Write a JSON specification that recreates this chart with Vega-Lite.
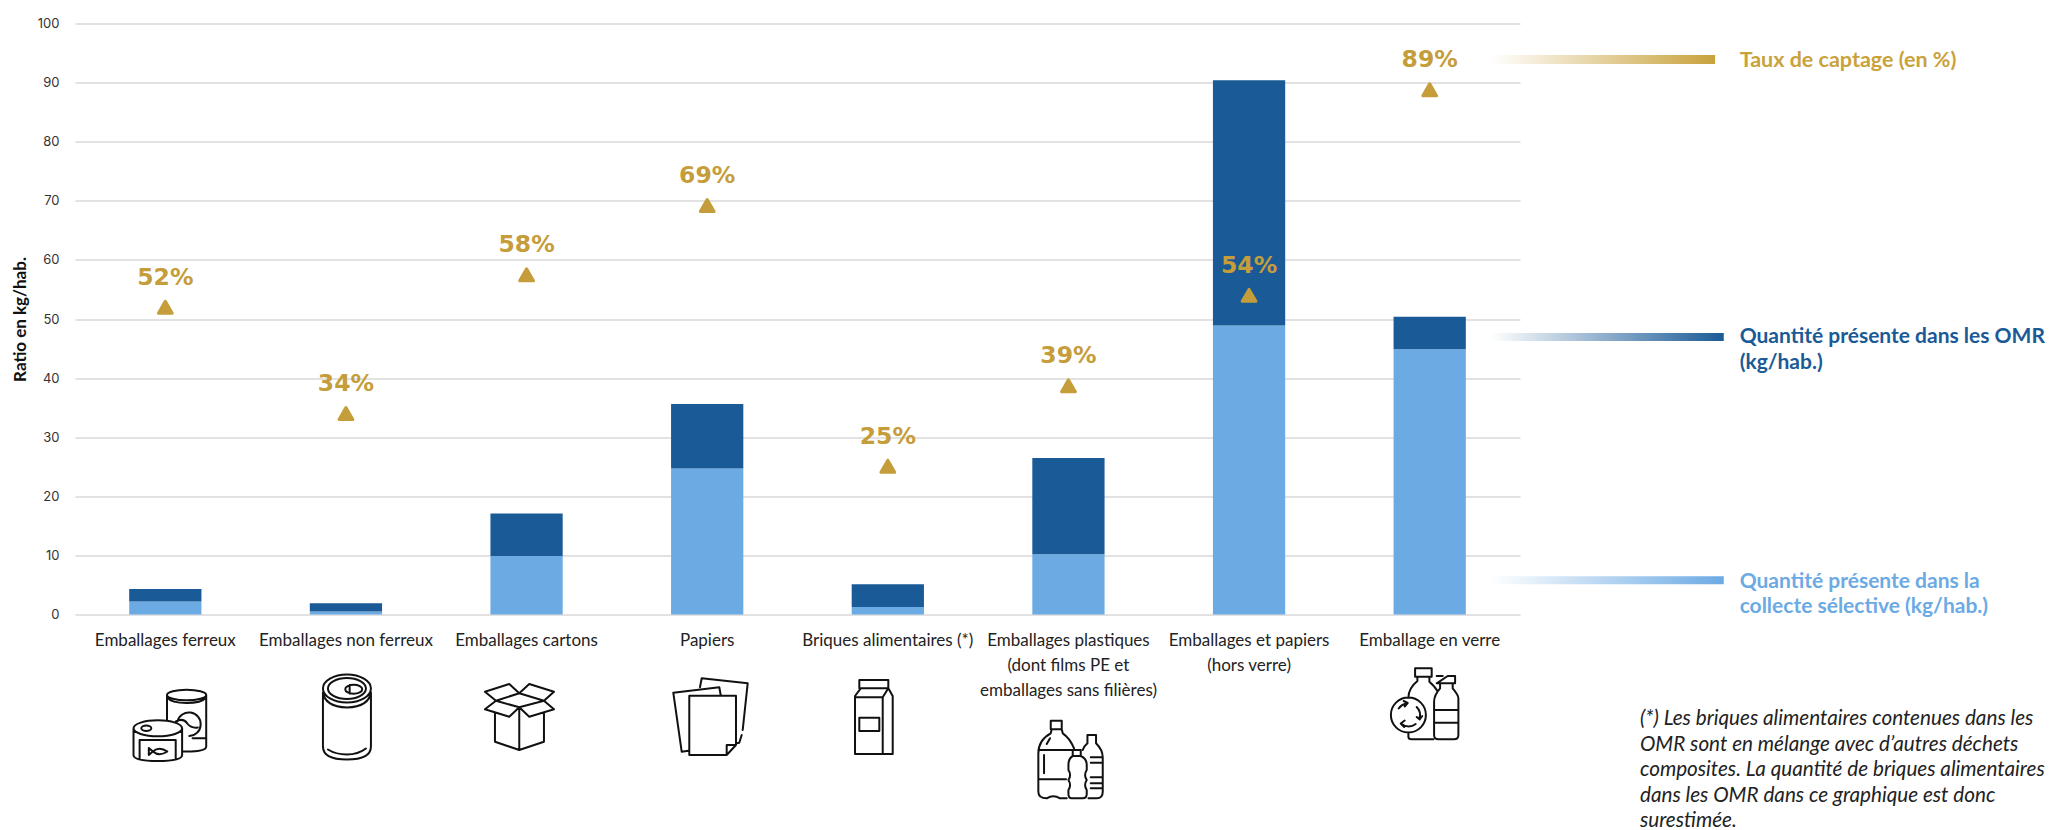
{
"$schema":"https://vega.github.io/schema/vega-lite/v6.json",
"width":1445,"height":591,
"padding":{"left":11,"top":17.5,"right":0,"bottom":0},
"background":"white",
"config":{"view":{"stroke":null}},
"datasets":{
"barres":[
{"categorie":"Emballages ferreux","serie":"Quantité présente dans la collecte sélective (kg/hab.)","rang":1,"valeur":2.2},
{"categorie":"Emballages ferreux","serie":"Quantité présente dans les OMR (kg/hab.)","rang":2,"valeur":2.1},
{"categorie":"Emballages non ferreux","serie":"Quantité présente dans la collecte sélective (kg/hab.)","rang":1,"valeur":0.5},
{"categorie":"Emballages non ferreux","serie":"Quantité présente dans les OMR (kg/hab.)","rang":2,"valeur":1.4},
{"categorie":"Emballages cartons","serie":"Quantité présente dans la collecte sélective (kg/hab.)","rang":1,"valeur":9.9},
{"categorie":"Emballages cartons","serie":"Quantité présente dans les OMR (kg/hab.)","rang":2,"valeur":7.2},
{"categorie":"Papiers","serie":"Quantité présente dans la collecte sélective (kg/hab.)","rang":1,"valeur":24.7},
{"categorie":"Papiers","serie":"Quantité présente dans les OMR (kg/hab.)","rang":2,"valeur":10.9},
{"categorie":"Briques alimentaires (*)","serie":"Quantité présente dans la collecte sélective (kg/hab.)","rang":1,"valeur":1.25},
{"categorie":"Briques alimentaires (*)","serie":"Quantité présente dans les OMR (kg/hab.)","rang":2,"valeur":3.85},
{"categorie":"Emballages plastiques (dont films PE et emballages sans filières)","serie":"Quantité présente dans la collecte sélective (kg/hab.)","rang":1,"valeur":10.2},
{"categorie":"Emballages plastiques (dont films PE et emballages sans filières)","serie":"Quantité présente dans les OMR (kg/hab.)","rang":2,"valeur":16.3},
{"categorie":"Emballages et papiers (hors verre)","serie":"Quantité présente dans la collecte sélective (kg/hab.)","rang":1,"valeur":48.9},
{"categorie":"Emballages et papiers (hors verre)","serie":"Quantité présente dans les OMR (kg/hab.)","rang":2,"valeur":41.5},
{"categorie":"Emballage en verre","serie":"Quantité présente dans la collecte sélective (kg/hab.)","rang":1,"valeur":44.9},
{"categorie":"Emballage en verre","serie":"Quantité présente dans les OMR (kg/hab.)","rang":2,"valeur":5.5}
],
"taux":[
{"categorie":"Emballages ferreux","taux":52,"libelle":"52%"},
{"categorie":"Emballages non ferreux","taux":34,"libelle":"34%"},
{"categorie":"Emballages cartons","taux":57.5,"libelle":"58%"},
{"categorie":"Papiers","taux":69.2,"libelle":"69%"},
{"categorie":"Briques alimentaires (*)","taux":25.1,"libelle":"25%"},
{"categorie":"Emballages plastiques (dont films PE et emballages sans filières)","taux":38.7,"libelle":"39%"},
{"categorie":"Emballages et papiers (hors verre)","taux":54,"libelle":"54%"},
{"categorie":"Emballage en verre","taux":88.8,"libelle":"89%"}
],
"legende":[
{"serie":"Taux de captage (en %)","libelle":"Taux de captage (en %)"},
{"serie":"Quantité présente dans les OMR (kg/hab.)","libelle":"Quantité présente dans les OMR\n(kg/hab.)"},
{"serie":"Quantité présente dans la collecte sélective (kg/hab.)","libelle":"Quantité présente dans la\ncollecte sélective (kg/hab.)"}
],
"note":[{"texte":"(*) Les briques alimentaires contenues dans les\nOMR sont en mélange avec d’autres déchets\ncomposites. La quantité de briques alimentaires\ndans les OMR dans ce graphique est donc\nsurestimée."}]
},
"resolve":{"scale":{"x":"independent"}},
"layer":[
{"layer":[
{"data":{"name":"barres"},
"mark":{"type":"bar"},
"encoding":{
"x":{"field":"categorie","type":"nominal","sort":null,"scale":{"paddingInner":0.6,"paddingOuter":0.3},
"axis":{"title":null,"labelAngle":0,"ticks":false,"domain":false,"grid":false,"labelFont":"Lato","labelFontSize":17,"labelColor":"#222222","labelPadding":26,"labelLimit":300,"labelLineHeight":25,"labelBaseline":"middle",
"labelExpr":"datum.label === 'Emballages plastiques (dont films PE et emballages sans filières)' ? ['Emballages plastiques','(dont films PE et','emballages sans filières)'] : datum.label === 'Emballages et papiers (hors verre)' ? ['Emballages et papiers','(hors verre)'] : datum.label"}},
"y":{"field":"valeur","type":"quantitative","stack":"zero","scale":{"domain":[0,100],"nice":false},
"axis":{"title":"Ratio en kg/hab.","values":[0,10,20,30,40,50,60,70,80,90,100],"grid":true,"gridColor":"#e2e2e2","gridWidth":1.8,"ticks":false,"domain":false,"labelFont":"Inter","labelFontSize":13,"labelColor":"#333333","labelPadding":16,"titleFont":"Lato","titleFontWeight":"bold","titleFontSize":17,"titleColor":"#111111","titlePadding":8}},
"color":{"field":"serie","type":"nominal","legend":null,"scale":{"domain":["Taux de captage (en %)","Quantité présente dans les OMR (kg/hab.)","Quantité présente dans la collecte sélective (kg/hab.)"],"range":["#c59d3a","#1a5a96","#6caae4"]}},
"order":{"field":"rang","type":"quantitative"}
}},
{"data":{"name":"taux"},
"mark":{"type":"point","shape":"triangle-up","filled":true,"color":"#c59d3a","size":190,"opacity":1,"stroke":"#c59d3a","strokeWidth":3,"strokeJoin":"round"},
"encoding":{"x":{"field":"categorie","type":"nominal","sort":null},"y":{"field":"taux","type":"quantitative"}}},
{"data":{"name":"taux"},
"mark":{"type":"text","font":"DejaVu Sans","fontWeight":"bold","fontSize":23.5,"color":"#c59d3a","baseline":"middle","dy":-29.5},
"encoding":{"x":{"field":"categorie","type":"nominal","sort":null},"y":{"field":"taux","type":"quantitative"},"text":{"field":"libelle"}}},
{"data":{"name":"taux"},
"transform":[{"filter":"datum.categorie !== 'Emballages et papiers (hors verre)'"}],
"mark":{"type":"point","filled":false,"size":4,"opacity":1,"stroke":"#111111","strokeWidth":2,"strokeJoin":"round","strokeCap":"round","clip":false},
"encoding":{"x":{"field":"categorie","type":"nominal","sort":null},"y":{"datum":0},
"shape":{"field":"categorie","type":"nominal","legend":null,"scale":{
"domain":["Emballages ferreux","Emballages non ferreux","Emballages cartons","Papiers","Briques alimentaires (*)","Emballages plastiques (dont films PE et emballages sans filières)","Emballage en verre"],
"range":[
"M1.7 80.5A19.6 5.3 0 1 0 40.9 80.5A19.6 5.3 0 1 0 1.7 80.5M1.7 80.5V106M40.9 80.5V132Q40.9 137 21 137H17M1.7 83Q6 88.5 21.3 88.5Q36 88.5 40.9 83M12.1 107A11.8 11.8 0 1 1 24 121.5M10.5 107Q18 103 22 109Q26 114 32.5 113M27.3 123.8H40.9M-31.8 113.8A24.3 8 0 1 0 16.8 113.8A24.3 8 0 1 0 -31.8 113.8M-31.8 113.8V140.5Q-31.8 146.5 -7.5 146.5Q16.8 146.5 16.8 140.5V113.8M-25.7 145V125.5H10.4V145M-24 113.8A5 2.7 0 1 0 -14 113.8A5 2.7 0 1 0 -24 113.8M-12.5 137Q-6 131.5 2 137Q-6 142.5 -12.5 137M-12.5 137L-16.5 133.5V140.5Z",
"M-23 74A24 14 0 1 0 25 74A24 14 0 1 0 -23 74M-18 74A19 10.5 0 1 0 20 74A19 10.5 0 1 0 -18 74M-23 78Q-21 92 1 93Q23 92 25 78M-23 78V132Q-23 145 1 145Q25 145 25 132V78M-18 135Q-10 140 1 140Q12 140 20 134M-0.7 74.8A8.5 4.5 0 1 0 16.3 74.8A8.5 4.5 0 1 0 -0.7 74.8M3.7 70.5V79",
"M-7.3 78.8L17.4 86.2L-7.3 92.8L-30.6 86.2ZM-30.6 86.2L-41.6 77.2L-17.3 69.5L-7.3 78.8M-7.3 78.8L2.7 69.5L27.4 77.2L17.4 86.2M-30.6 86.2L-41.6 94.8L-17.3 102.2L-7.3 92.8M17.4 86.2L27.4 94.8L2.7 102.2L-7.3 92.8M-31.6 98.8V127.2L-7.3 135.5L17.4 127.2V98.8M-7.3 92.8V135.5",
"M-17.9 81.2H28.8V130.5L19.5 140.5H-17.9ZM19.5 140.5V130.5H28.8M-18.9 136.2L-25.5 137.2L-33.9 78.2L12.1 72.8L13.5 80.5M-7.2 72.8L-5.5 63.8L40.5 68.8L35.5 115.5M34.5 120.5L32.1 128.2L29.5 128.8",
"M-32.8 139.5V81.5L-27.1 73.8H0.5L4.9 81.5V139.5ZM-28.5 73.8V65.5H0.5V73.8M-32.8 82.8H-5.1V139.5M-5.1 82.8L0.5 73.8M-28.5 103.2H-8.5V116.5H-28.5Z",
"M-17.7 106.2H-6.7V114.8H-17.7ZM-16.7 114.8L-17.7 118.8Q-30.1 125.5 -30.1 138.8V177.2Q-30.1 183.8 -21.7 183.8Q-15.1 179.5 -8.4 183.8H-1.7M-6.7 114.8L-5.7 118.8Q1.6 123.8 5.6 133.8M-30.1 135.5H3.3M-30.1 164.8H-2.4M-24.4 140.5V158.8M-21.7 129.5L-18.4 123.8M4.3 135.5H12.3V141.5H4.3ZM4.3 141.5Q0 143.8 0 150.5V155.5Q3.3 160.5 0 165.5Q3.3 170.5 0 175.5V179.5Q0 183.8 3.3 183.8H14.3Q18.3 183.8 18.3 179.5V175.5Q15 170.5 18.3 165.5Q15 160.5 18.3 155.5V150.5Q18.3 143.8 12.3 141.5M19 120.5H27.6M19 120.5V128.8Q15 132.2 14.3 135.5M27.6 120.5V128.8Q34.3 135.5 34.3 142.8V177.2Q34.3 183.8 28.3 183.8H20M22.3 142.8H34.3M22.3 148.2H34.3M22.3 162.8H34.3M22.3 168.8H34.3M22.3 173.8H34.3",
"M-14.6 53.8H2V62.2H-14.6ZM-12.3 62.2V66.5Q-21.3 73.8 -21.3 83.2M-0.3 62.2V67.2Q5.4 72.2 7.7 76.5M-21.3 118.8V122.2Q-21.3 124.8 -17.9 124.8H3.7M7 61.5H13M18 61.5H25.4V68.8H7ZM10.4 68.8V73.8Q4.4 80.5 4.4 87.2V120.5Q4.4 124.8 8.7 124.8H24.4Q28.7 124.8 28.7 120.5V83.8Q28.7 80.5 23 73.8V68.8M4.4 95.5H28.7M4.4 108.2H28.7M-38.8 100.5A17.5 17.5 0 1 0 -3.8 100.5A17.5 17.5 0 1 0 -38.8 100.5M-31 94A11.5 11.5 0 0 1 -24 89.3M-26 86.5L-22 88.5L-25 92M-13 92.5A11.5 11.5 0 0 1 -10.2 104M-13 102.5L-10 105L-7.5 101.5M-14 109.5A11.5 11.5 0 0 1 -28 109.5M-25 106L-29 109L-25.5 112.5"
]}}}}
]},
{"layer":[
{"data":{"name":"legende"},"transform":[{"filter":"datum.serie === 'Taux de captage (en %)'"}],
"mark":{"type":"rect","height":9,"fill":{"gradient":"linear","x1":0,"y1":0,"x2":1,"y2":0,"stops":[{"offset":0,"color":"#ffffff"},{"offset":1,"color":"#c9a23c"}]}},
"encoding":{"x":{"datum":98,"type":"quantitative","scale":{"domain":[0,100]},"axis":null},"x2":{"datum":113.5},"y":{"datum":93.9}}},
{"data":{"name":"legende"},"transform":[{"filter":"datum.serie === 'Quantité présente dans les OMR (kg/hab.)'"}],
"mark":{"type":"rect","height":8,"fill":{"gradient":"linear","x1":0,"y1":0,"x2":1,"y2":0,"stops":[{"offset":0,"color":"#ffffff"},{"offset":1,"color":"#1a5a96"}]}},
"encoding":{"x":{"datum":98,"type":"quantitative","scale":{"domain":[0,100]},"axis":null},"x2":{"datum":114.1},"y":{"datum":46.95}}},
{"data":{"name":"legende"},"transform":[{"filter":"datum.serie === 'Quantité présente dans la collecte sélective (kg/hab.)'"}],
"mark":{"type":"rect","height":8,"fill":{"gradient":"linear","x1":0,"y1":0,"x2":1,"y2":0,"stops":[{"offset":0,"color":"#ffffff"},{"offset":1,"color":"#6caae4"}]}},
"encoding":{"x":{"datum":98,"type":"quantitative","scale":{"domain":[0,100]},"axis":null},"x2":{"datum":114.1},"y":{"datum":5.8}}},
{"data":{"name":"legende"},"transform":[{"filter":"datum.serie === 'Taux de captage (en %)'"}],
"mark":{"type":"text","font":"Lato","fontSize":21.5,"fontWeight":"bold","align":"left","baseline":"top","lineBreak":"\n","lineHeight":25.5,"color":"#c9a23c"},
"encoding":{"x":{"datum":115.2,"type":"quantitative","scale":{"domain":[0,100]},"axis":null},"y":{"datum":95.45},"text":{"field":"libelle"}}},
{"data":{"name":"legende"},"transform":[{"filter":"datum.serie === 'Quantité présente dans les OMR (kg/hab.)'"}],
"mark":{"type":"text","font":"Lato","fontSize":21,"fontWeight":"bold","align":"left","baseline":"top","lineBreak":"\n","lineHeight":25.5,"color":"#1a5a96"},
"encoding":{"x":{"datum":115.2,"type":"quantitative","scale":{"domain":[0,100]},"axis":null},"y":{"datum":48.8},"text":{"field":"libelle"}}},
{"data":{"name":"legende"},"transform":[{"filter":"datum.serie === 'Quantité présente dans la collecte sélective (kg/hab.)'"}],
"mark":{"type":"text","font":"Lato","fontSize":21,"fontWeight":"bold","align":"left","baseline":"top","lineBreak":"\n","lineHeight":25.5,"color":"#6caae4"},
"encoding":{"x":{"datum":115.2,"type":"quantitative","scale":{"domain":[0,100]},"axis":null},"y":{"datum":7.4},"text":{"field":"libelle"}}},
{"data":{"name":"note"},
"mark":{"type":"text","font":"Lato","fontSize":20.7,"fontStyle":"italic","align":"left","baseline":"top","lineBreak":"\n","lineHeight":25.5,"color":"#222222"},
"encoding":{"x":{"datum":108.3,"type":"quantitative","scale":{"domain":[0,100]},"axis":null},"y":{"datum":-16.05},"text":{"field":"texte"}}}
]}
]
}
